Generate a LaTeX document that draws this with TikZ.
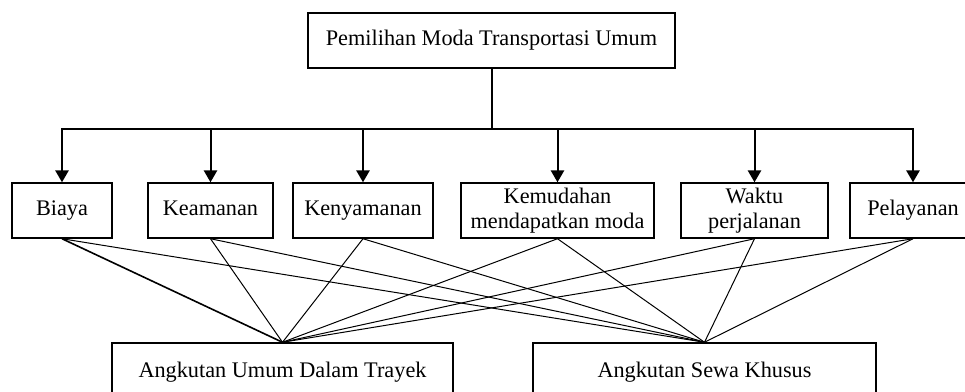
\documentclass[tikz,border=0pt]{standalone}
\usepackage{fontspec}
\setmainfont{Liberation Serif}
\usetikzlibrary{arrows.meta}

\tikzset{
  box/.style={draw, line width=1.1pt, minimum height=41.25pt, inner sep=2pt, align=center},
  oneline/.style={text height=11.5pt, text depth=3.8pt},
  tree/.style={line width=1.5pt},
  arr/.style={line width=1.5pt, -{Triangle[length=9pt,width=10pt]}},
  link/.style={line width=0.75pt}
}

\begin{document}
\begin{tikzpicture}[x=0.75pt, y=-0.75pt, font=\fontsize{16.7}{18.75}\selectfont]
    \useasboundingbox (0,0) rectangle (965,392);

    % --- Goal ---
    \node[box, oneline, minimum width=275.25pt] (pilihan) at (491.5,40.5) {Pemilihan Moda Transportasi Umum};

    % --- Criteria ---
    \node[box, oneline, minimum width=75pt]     (biaya)  at (62,210.5)    {Biaya};
    \node[box, oneline, minimum width=93.75pt]  (aman)   at (210.5,210.5) {Keamanan};
    \node[box, oneline, minimum width=105pt]    (nyaman) at (363,210.5)   {Kenyamanan};
    \node[box, minimum width=144.75pt]          (mudah)  at (557.5,210.5) {Kemudahan\\mendapatkan moda};
    \node[box, minimum width=110.25pt]          (waktu)  at (754.5,210.5) {Waktu\\perjalanan};
    \node[box, oneline, minimum width=94.5pt]   (layan)  at (913,210.5)   {Pelayanan};

    % --- Alternatives ---
    \node[box, oneline, minimum width=255.75pt, minimum height=43.5pt] (trayek) at (282.5,372) {Angkutan Umum Dalam Trayek};
    \node[box, oneline, minimum width=257.25pt, minimum height=43.5pt] (sewa)   at (704.5,372) {Angkutan Sewa Khusus};

    % Tree from goal to criteria
    \coordinate (bus) at (491.5,129);
    \draw[tree] (pilihan.south) -- (bus);
    \foreach \n in {biaya,aman,nyaman,mudah,waktu,layan}
        \draw[arr] (bus) -| (\n.north);

    % Links from criteria to alternatives
    \draw[link, line width=1.2pt] (biaya.south) -- (trayek.north);
    \draw[link] (biaya.south) -- (sewa.north);
    \foreach \n in {aman,nyaman,mudah,waktu,layan}
    {
        \draw[link] (\n.south) -- (trayek.north);
        \draw[link] (\n.south) -- (sewa.north);
    }
\end{tikzpicture}
\end{document}
